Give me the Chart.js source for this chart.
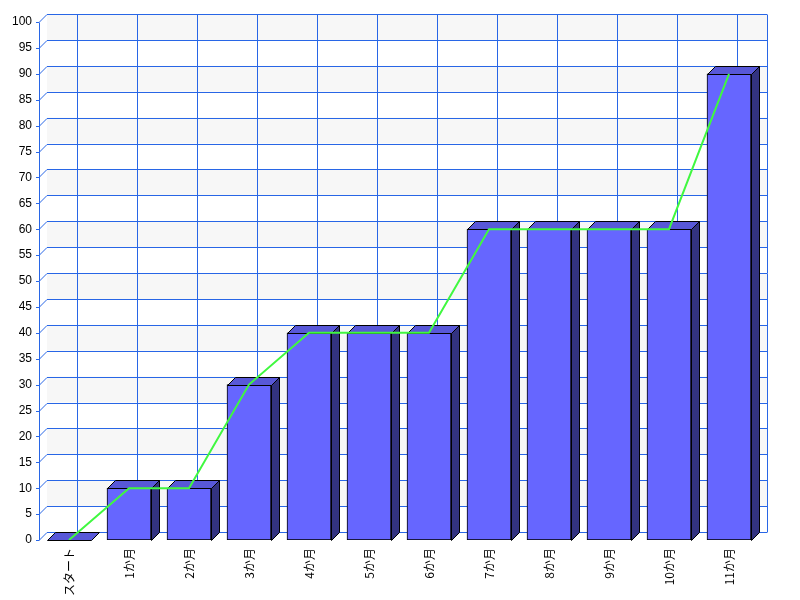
<!DOCTYPE html>
<html>
<head>
<meta charset="utf-8">
<script src="https://cdn.jsdelivr.net/npm/chart.js@4.4.1/dist/chart.umd.min.js"></script>
<style>
  html, body { margin: 0; padding: 0; background: #fff; }
  #wrap { width: 800px; height: 600px; }
</style>
</head>
<body>
<div id="wrap"><canvas id="chart" width="800" height="600"></canvas></div>
<script>
const labels = ['スタート', '1か月', '2か月', '3か月', '4か月', '5か月', '6か月', '7か月', '8か月', '9か月', '10か月', '11か月'];
const barValues = [0, 10, 10, 30, 40, 40, 40, 60, 60, 60, 60, 90];
const lineValues = [0, 10, 10, 30, 40, 40, 40, 60, 60, 60, 60, 90];
const yMin = 0;
const yMax = 100;
const yStep = 5;

const DEPTH = 8;
const GRID = '#2866e6';

// back wall, bands and grid drawn with a small 3D offset
const wallPlugin = {
    id: 'wall',
    beforeDatasetsDraw(chart) {
        const ctx = chart.ctx;
        const x = chart.scales.x, y = chart.scales.y;
        const left = chart.chartArea.left, right = chart.chartArea.right;
        ctx.save();
        // bands
        ctx.fillStyle = '#f7f7f7';
        for (let v = yMin + yStep; v < yMax; v += yStep * 2) {
            const yb = y.getPixelForValue(v) - DEPTH;
            const yt = y.getPixelForValue(v + yStep) - DEPTH;
            ctx.fillRect(left + DEPTH, yt, right - left, yb - yt);
        }
        ctx.strokeStyle = GRID;
        ctx.lineWidth = 1;
        ctx.beginPath();
        for (let v = yMin; v <= yMax; v += yStep) {
            const py = Math.round(y.getPixelForValue(v)) + 0.5;
            ctx.moveTo(left + DEPTH, py - DEPTH);
            ctx.lineTo(right + DEPTH, py - DEPTH);
            ctx.moveTo(left, py);
            ctx.lineTo(left + DEPTH, py - DEPTH);
            ctx.moveTo(left - 3, py);
            ctx.lineTo(left, py);
        }
        const top = Math.round(y.getPixelForValue(yMax)) + 0.5;
        const bottom = Math.round(y.getPixelForValue(yMin)) + 0.5;
        labels.forEach((l, i) => {
            const px = Math.round(x.getPixelForValue(i)) + DEPTH + 0.5;
            ctx.moveTo(px, top - DEPTH);
            ctx.lineTo(px, bottom - DEPTH);
        });
        ctx.moveTo(Math.round(right) + DEPTH + 0.5, top - DEPTH);
        ctx.lineTo(Math.round(right) + DEPTH + 0.5, bottom - DEPTH);
        ctx.moveTo(Math.round(left) + 0.5, top);
        ctx.lineTo(Math.round(left) + 0.5, bottom);
        ctx.stroke();
        ctx.restore();
    },
    afterDatasetDraw(chart, args) {
        if (args.index !== 1) return;
        const ctx = chart.ctx;
        const meta = chart.getDatasetMeta(1);
        ctx.save();
        ctx.strokeStyle = '#000';
        ctx.lineWidth = 1;
        meta.data.forEach(bar => {
            const p = bar.getProps(['x', 'y', 'base', 'width'], true);
            const x0 = Math.round(p.x - p.width / 2) + 0.5;
            const x1 = Math.round(p.x + p.width / 2) + 0.5;
            const yt = Math.round(p.y) + 0.5;
            const yb = Math.round(p.base) + 0.5;
            // top
            ctx.fillStyle = '#5858d8';
            ctx.beginPath();
            ctx.moveTo(x0, yt);
            ctx.lineTo(x0 + DEPTH, yt - DEPTH);
            ctx.lineTo(x1 + DEPTH, yt - DEPTH);
            ctx.lineTo(x1, yt);
            ctx.closePath();
            ctx.fill();
            ctx.stroke();
            // side
            if (yb > yt) {
                ctx.fillStyle = '#333380';
                ctx.beginPath();
                ctx.moveTo(x1, yt);
                ctx.lineTo(x1 + DEPTH, yt - DEPTH);
                ctx.lineTo(x1 + DEPTH, yb - DEPTH);
                ctx.lineTo(x1, yb);
                ctx.closePath();
                ctx.fill();
                ctx.stroke();
            }
        });
        ctx.restore();
    }
};

new Chart(document.getElementById('chart'), {
    data: {
        labels: labels,
        datasets: [
            {
                type: 'line',
                data: lineValues,
                borderColor: '#40f840',
                borderWidth: 2,
                pointRadius: 0,
                tension: 0,
                order: 0
            },
            {
                type: 'bar',
                data: barValues,
                backgroundColor: '#6666ff',
                borderColor: '#000',
                borderWidth: 1,
                borderSkipped: false,
                barThickness: 44,
                order: 1
            }
        ]
    },
    options: {
        responsive: false,
        animation: false,
        layout: { padding: { top: 22, right: 41, left: 0, bottom: 0 } },
        plugins: {
            legend: { display: false },
            tooltip: { enabled: false }
        },
        scales: {
            x: {
                grid: { display: false },
                border: { display: false },
                ticks: {
                    minRotation: 90,
                    maxRotation: 90,
                    padding: 0,
                    color: '#000',
                    font: { family: '"Noto Sans CJK JP"', size: 12 }
                },
                afterFit: s => { s.height = 60; }
            },
            y: {
                min: yMin,
                max: yMax,
                grid: { display: false },
                border: { display: false },
                ticks: {
                    stepSize: yStep,
                    padding: -1,
                    color: '#000',
                    font: { family: '"Liberation Sans"', size: 12 }
                },
                afterFit: s => { s.width = 39; }
            }
        }
    },
    plugins: [wallPlugin]
});
</script>
</body>
</html>
